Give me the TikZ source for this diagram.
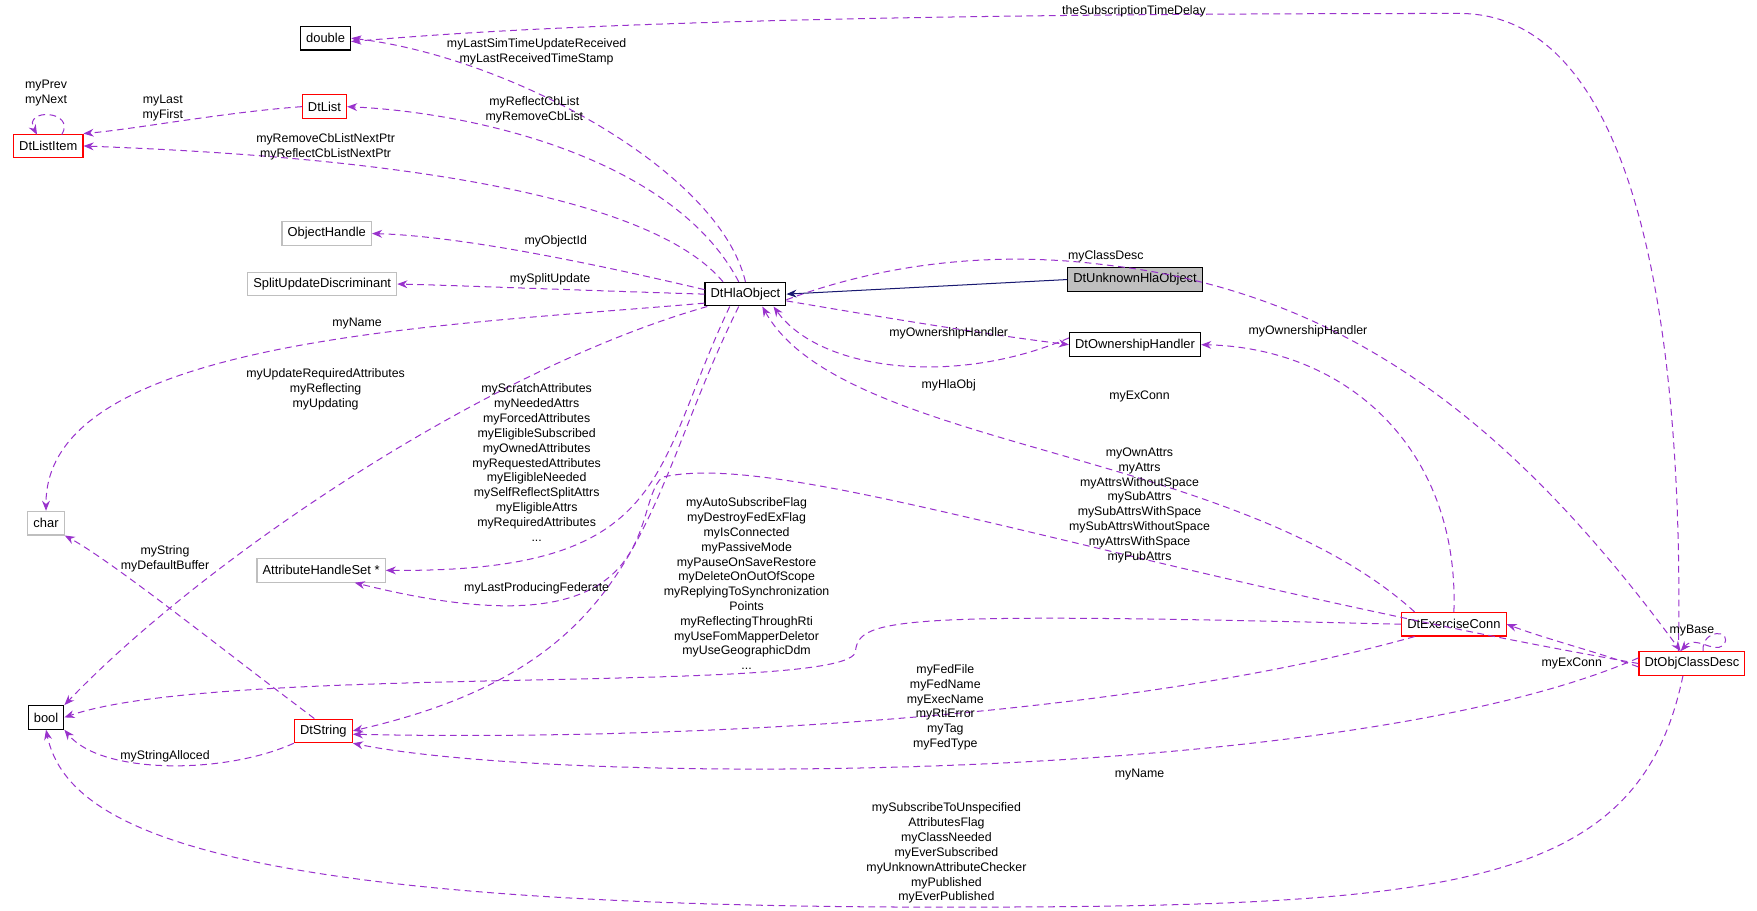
\documentclass[tikz,border=0pt]{standalone}
\usepackage{fontspec}
\setmainfont{Liberation Sans}
\usetikzlibrary{arrows.meta}
\definecolor{edg}{RGB}{153,50,204}
\definecolor{nav}{RGB}{25,25,112}
\begin{document}
\begin{tikzpicture}[x=1pt,y=-1pt,
  box/.style={draw=black,line width=1pt,fill=white,minimum height=21pt,inner xsep=5pt,font=\fontsize{11.5}{13}\selectfont},
  rbox/.style={box,draw=red},
  gbox/.style={box,draw=black!25},
  e/.style={draw=edg,dashed,dash pattern=on 6pt off 4pt,line width=0.9pt,-{Stealth[length=9pt,width=7pt]}},
  lbl/.style={align=center,font=\fontsize{11}{13.2}\selectfont,inner sep=0pt}]
\useasboundingbox (0,0) rectangle (1565,811);
\node[box] (dbl) at (290,34) {double};
\node[rbox] (list) at (289,95) {DtList};
\node[rbox] (item) at (43,130) {DtListItem};
\node[gbox] (oh) at (291,208) {ObjectHandle};
\node[gbox] (split) at (287,253) {SplitUpdateDiscriminant};
\node[box] (hla) at (664,262) {DtHlaObject};
\node[box,fill=black!25] (unk) at (1011,249) {DtUnknownHlaObject};
\node[box] (own) at (1011,307) {DtOwnershipHandler};
\node[gbox] (chr) at (41,466) {char};
\node[gbox] (attr) at (286,508) {AttributeHandleSet *};
\node[box] (bool) at (41,639) {bool};
\node[rbox] (str) at (288,651) {DtString};
\node[rbox] (ex) at (1295,556) {DtExerciseConn};
\node[rbox] (obj) at (1507,591) {DtObjClassDesc};

\draw[e] (hla.north) .. controls (640,150) and (450,50) .. (dbl.east);
\draw[e] ([xshift=-6pt]hla.north) .. controls (600,140) and (420,100) .. (list.east);
\draw[e] ([xshift=-20pt]hla.north) .. controls (560,150) and (200,135) .. (item.east);
\draw[e] (list.west) .. controls (200,100) and (120,115) .. (item.north east);
\draw[e] (55,120) .. controls (68,98) and (20,96) .. (33,120);
\draw[e] ([yshift=4pt]hla.west) .. controls (500,228) and (400,210) .. (oh.east);
\draw[e] (hla.west) .. controls (500,258) and (400,254) .. (split.east);
\draw[draw=nav,line width=0.9pt,-{Stealth[length=9pt,width=7pt]}] (unk.west) -- (hla.east);
\draw[e] ([yshift=-6pt]hla.east) .. controls (800,285) and (880,298) .. (own.west);
\draw[e] ([yshift=6pt]own.west) .. controls (850,345) and (730,330) .. ([xshift=25pt]hla.south);
\draw[e] ([yshift=-8pt]hla.west) .. controls (400,290) and (40,300) .. (chr.north);
\draw[e] ([xshift=-34pt]hla.south) .. controls (430,330) and (180,500) .. (bool.north east);
\draw[e] ([xshift=-14pt]hla.south) .. controls (580,420) and (600,510) .. (attr.east);
\draw[e] ([xshift=-6pt]hla.south) .. controls (570,450) and (580,590) .. (str.east);
\draw[e] (obj.west) .. controls (1000,510) and (700,400) .. (590,425) .. controls (560,450) and (600,590) .. ([xshift=30pt]attr.south);
\draw[e] (ex.west) .. controls (800,545) and (765,550) .. (762,580) .. controls (760,620) and (200,590) .. (bool.east);
\draw[e] ([xshift=-35pt]ex.south) .. controls (1000,640) and (600,660) .. ([yshift=-3pt]str.east);
\draw[e] ([yshift=5pt]obj.west) .. controls (1200,700) and (500,700) .. (str.south east);
\draw[e] ([xshift=-8pt]obj.south) .. controls (1460,790) and (1300,808) .. (843,808) .. controls (200,808) and (60,740) .. (bool.south);
\draw[e] (str.south west) .. controls (200,690) and (90,690) .. (bool.south east);
\draw[e] ([xshift=-8pt]str.north) .. controls (200,580) and (100,500) .. (chr.south east);
\draw[e] ([yshift=-3pt]obj.west) .. controls (1420,580) and (1380,570) .. (ex.east);
\draw[e] (ex.north) .. controls (1300,400) and (1200,310) .. (own.east);
\draw[e] ([xshift=-35pt]ex.north) .. controls (1100,400) and (750,400) .. ([xshift=15pt]hla.south);
\draw[e] ([yshift=-5pt]hla.east) .. controls (800,230) and (900,225) .. (985,236) .. controls (1200,260) and (1350,380) .. ([xshift=-10pt]obj.north);
\draw[e] ([xshift=-12pt]obj.north) .. controls (1500,300) and (1460,12) .. (1300,12) .. controls (600,12) and (400,30) .. ([yshift=-3pt]dbl.east);
\draw[e] ([xshift=10pt]obj.north) .. controls (1515,560) and (1545,560) .. (1535,575) .. controls (1525,582) and (1510,565) .. ([xshift=-10pt]obj.north);

\node[lbl] at (41,83) {myPrev\\myNext};
\node[lbl] at (145,96) {myLast\\myFirst};
\node[lbl] at (478,46) {myLastSimTimeUpdateReceived\\myLastReceivedTimeStamp};
\node[lbl] at (476,98) {myReflectCbList\\myRemoveCbList};
\node[lbl] at (290,131) {myRemoveCbListNextPtr\\myReflectCbListNextPtr};
\node[lbl] at (495,215) {myObjectId};
\node[lbl] at (490,249) {mySplitUpdate};
\node[lbl] at (318,288) {myName};
\node[lbl] at (290,347) {myUpdateRequiredAttributes\\myReflecting\\myUpdating};
\node[lbl] at (478,412) {myScratchAttributes\\myNeededAttrs\\myForcedAttributes\\myEligibleSubscribed\\myOwnedAttributes\\myRequestedAttributes\\myEligibleNeeded\\mySelfReflectSplitAttrs\\myEligibleAttrs\\myRequiredAttributes\\...};
\node[lbl] at (478,524) {myLastProducingFederate};
\node[lbl] at (147,498) {myString\\myDefaultBuffer};
\node[lbl] at (147,674) {myStringAlloced};
\node[lbl] at (665,520) {myAutoSubscribeFlag\\myDestroyFedExFlag\\myIsConnected\\myPassiveMode\\myPauseOnSaveRestore\\myDeleteOnOutOfScope\\myReplyingToSynchronization\\Points\\myReflectingThroughRti\\myUseFomMapperDeletor\\myUseGeographicDdm\\...};
\node[lbl] at (1015,450) {myOwnAttrs\\myAttrs\\myAttrsWithoutSpace\\mySubAttrs\\mySubAttrsWithSpace\\mySubAttrsWithoutSpace\\myAttrsWithSpace\\myPubAttrs};
\node[lbl] at (842,630) {myFedFile\\myFedName\\myExecName\\myRtiError\\myTag\\myFedType};
\node[lbl] at (1015,690) {myName};
\node[lbl] at (843,760) {mySubscribeToUnspecified\\AttributesFlag\\myClassNeeded\\myEverSubscribed\\myUnknownAttributeChecker\\myPublished\\myEverPublished};
\node[lbl] at (845,297) {myOwnershipHandler};
\node[lbl] at (845,343) {myHlaObj};
\node[lbl] at (1165,295) {myOwnershipHandler};
\node[lbl] at (1015,353) {myExConn};
\node[lbl] at (985,228) {myClassDesc};
\node[lbl] at (1010,10) {theSubscriptionTimeDelay};
\node[lbl] at (1400,591) {myExConn};
\node[lbl] at (1507,562) {myBase};
\end{tikzpicture}
\end{document}
